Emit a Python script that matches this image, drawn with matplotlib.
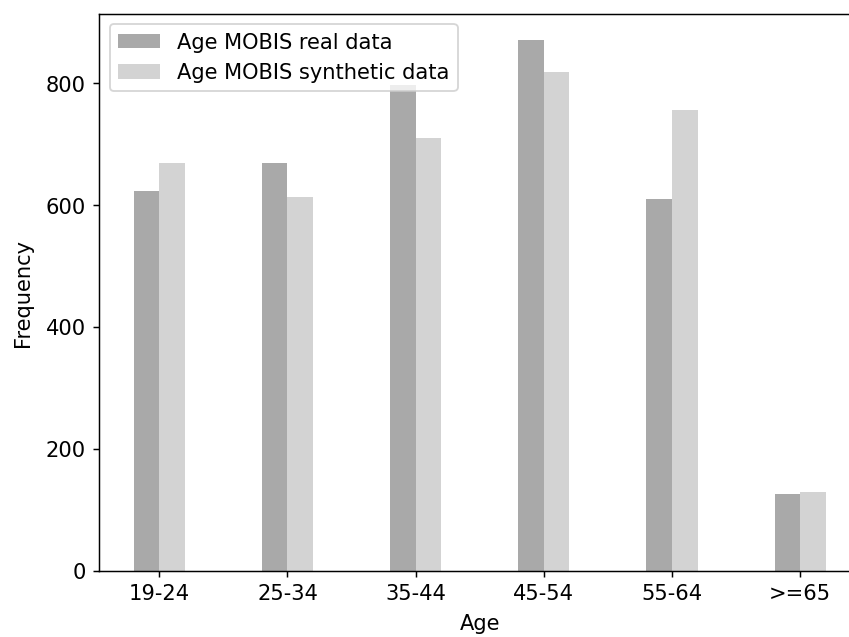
import matplotlib
matplotlib.use("Agg")
import matplotlib.pyplot as plt
import numpy as np

categories = ["19-24", "25-34", "35-44", "45-54", "55-64", ">=65"]
real_data = [623, 669, 797, 871, 610, 126]
synthetic_data = [669, 613, 710, 818, 756, 129]

plt.rcParams["font.size"] = 11.4

fig = plt.figure(figsize=(6.4, 4.8), dpi=132.8)
ax = fig.add_axes([0.1165, 0.1041, 0.8959, 0.874])

x = np.arange(len(categories))
w = 0.2
ax.bar(x - w / 2, real_data, width=w, color="darkgray", label="Age MOBIS real data")
ax.bar(x + w / 2, synthetic_data, width=w, color="lightgray", label="Age MOBIS synthetic data")
ax.set_xticks(x)
ax.set_xticklabels(categories)
ax.set_xlabel("Age", labelpad=5.5)
ax.set_ylabel("Frequency", labelpad=7)
ax.spines["right"].set_visible(False)
ax.legend(loc="upper left")

fig.savefig("out.png", dpi=132.8)
